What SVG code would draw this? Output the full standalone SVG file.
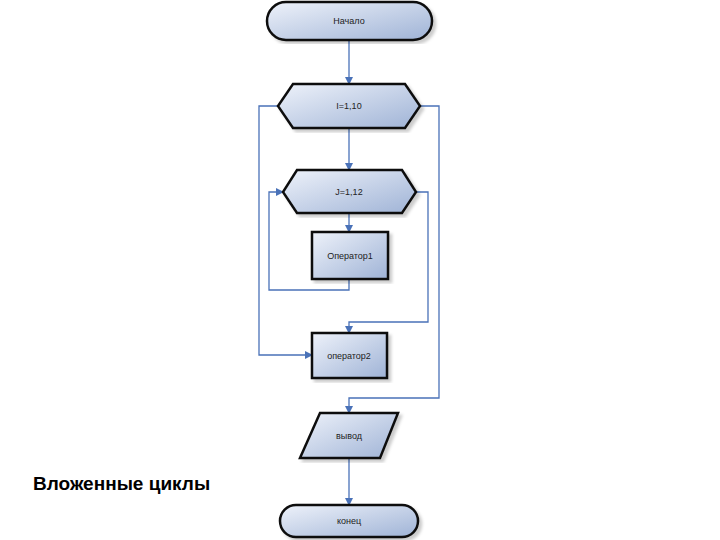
<svg xmlns="http://www.w3.org/2000/svg" width="720" height="540" viewBox="0 0 720 540">
<defs>
<linearGradient id="g" x1="0" y1="0" x2="1" y2="1"><stop offset="0" stop-color="#eef2fa"/><stop offset="1" stop-color="#9fb3d6"/></linearGradient>
<marker id="a" markerWidth="8" markerHeight="8" refX="7" refY="4" orient="auto" markerUnits="userSpaceOnUse"><path d="M0,0 L8,4 L0,8 Z" fill="#4a72b8"/></marker>
<filter id="s"><feDropShadow dx="3" dy="3" stdDeviation="1.5" flood-color="#000" flood-opacity="0.2"/></filter>
</defs>
<style>
.n{fill:url(#g);stroke:#111;stroke-width:2.5;filter:url(#s)}
.t{font-family:"Liberation Sans",Arial,sans-serif;font-size:9px;fill:#222;text-anchor:middle}
.c{fill:none;stroke:#4a72b8;stroke-width:1.3;marker-end:url(#a)}
</style>
<rect width="720" height="540" fill="#fff"/>
<g id="connectors">
<path class="c" d="M349,40 V84"/>
<path class="c" d="M349,128 V170"/>
<path class="c" d="M349,213 V232"/>
<path class="c" d="M349,279 V290 H269 V192 H283"/>
<path class="c" d="M416,192 H428 V322 H349 V333"/>
<path class="c" d="M278,106 H259 V355 H312"/>
<path class="c" d="M420,106 H439 V398 H349 V413"/>
<path class="c" d="M349,458 V505"/>
</g>
<g id="start"><rect class="n" x="267" y="2" width="165" height="38" rx="19"/><text class="t" x="349" y="24">Начало</text></g>
<g id="loopI"><polygon class="n" points="293,84 405,84 420,106 405,128 293,128 278,106"/><text class="t" x="349" y="109">I=1,10</text></g>
<g id="loopJ"><polygon class="n" points="297,170 402,170 416,192 402,213 297,213 283,192"/><text class="t" x="349" y="195">J=1,12</text></g>
<g id="op1"><rect class="n" x="312" y="232" width="76" height="47"/><text class="t" x="350" y="259">Оператор1</text></g>
<g id="op2"><rect class="n" x="312" y="333" width="75" height="45"/><text class="t" x="349" y="359">оператор2</text></g>
<g id="output"><polygon class="n" points="320,413 398,413 380,458 300,458"/><text class="t" x="349" y="439">вывод</text></g>
<g id="end"><rect class="n" x="280" y="505" width="138" height="32" rx="16"/><text class="t" x="349" y="524">конец</text></g>
<text x="33" y="490" font-family="'Liberation Sans',Arial,sans-serif" font-weight="bold" font-size="19" fill="#000">Вложенные циклы</text>
</svg>
